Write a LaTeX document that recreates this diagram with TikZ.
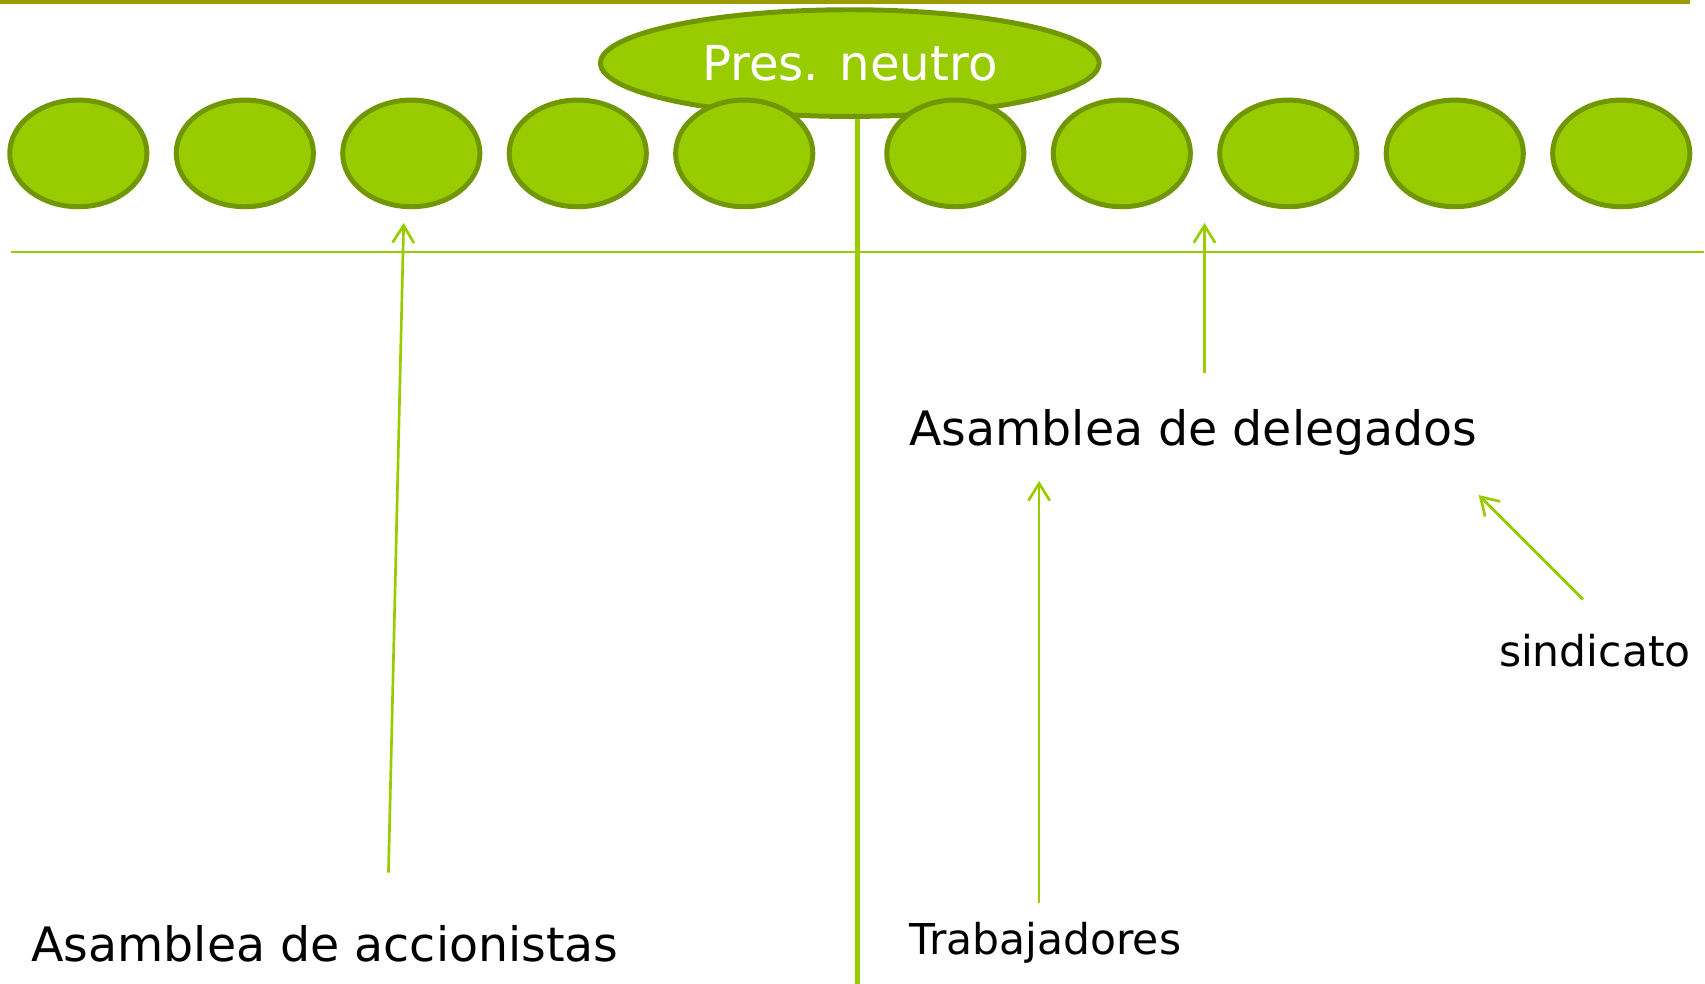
\documentclass[tikz,border=0pt]{standalone}
\usepackage{fontspec}
\setmainfont{DejaVu Sans}
\usepackage{tikz}
\usetikzlibrary{shapes.geometric, arrows.meta, positioning}
\definecolor{leafgreen}{RGB}{153, 204, 0}
\definecolor{leafdark}{RGB}{112, 150, 0}
\definecolor{olivebar}{RGB}{156, 156, 0}
\tikzset{
  seat/.style={ellipse, draw=leafdark, fill=leafgreen, line width=1.3pt, inner sep=0pt, minimum width=1.26cm, minimum height=0.98cm},
  link/.style={draw=leafgreen, line width=0.7pt, -{Straight Barb[length=4.5pt, width=5.6pt]}},
  biglabel/.style={anchor=base west, inner sep=0pt, font=\fontsize{12.4}{14}\selectfont},
  smalllabel/.style={anchor=base west, inner sep=0pt, font=\fontsize{11.1}{13}\selectfont}
}

\begin{document}
\begin{tikzpicture}[x=0.01cm, y=-0.01cm]
  \useasboundingbox (0, 0) rectangle (1567, 904);

  % Top rule and board line
  \draw[olivebar, line width=1.1pt] (0, 2) -- (1553, 2);
  \draw[leafgreen, line width=0.5pt] (10, 232) -- (1566, 232);

  % Neutral president
  \node[ellipse, draw=leafdark, fill=leafgreen, line width=1.3pt, inner sep=0pt, minimum width=4.58cm, minimum height=0.98cm, text=white, font=\fontsize{12.6}{15}\selectfont] (pres) at (781, 58) {Pres. neutro};
  \coordinate (split) at (788, 904);
  \draw[leafgreen, line width=1.2pt] (split |- pres.south) -- (split);

  % Board seats
  \node[seat] (s1) at (72, 141) {};
  \node[seat] (s2) at (225, 141) {};
  \node[seat] (s3) at (378, 141) {};
  \node[seat] (s4) at (531, 141) {};
  \node[seat] (s5) at (684, 141) {};
  \node[seat] (s6) at (878, 141) {};
  \node[seat] (s7) at (1031, 141) {};
  \node[seat] (s8) at (1184, 141) {};
  \node[seat] (s9) at (1337, 141) {};
  \node[seat] (s10) at (1490, 141) {};

  % Assemblies
  \node[biglabel] (accion) at (28, 884) {Asamblea de accionistas};
  \node[biglabel] (deleg) at (835, 409) {Asamblea de delegados};
  \node[smalllabel] (trab) at (835, 877) {Trabajadores};
  \node[smalllabel] (sind) at (1377, 613) {sindicato};

  % Arrows
  \coordinate (accion-up) at (357, 802);
  \coordinate (seat-left) at (371, 205);
  \coordinate (deleg-up) at (1107, 343);
  \coordinate (seat-right) at (1107, 205);
  \coordinate (trab-up) at (955, 830);
  \coordinate (deleg-low) at (955, 442);
  \coordinate (sind-up) at (1455, 551);
  \coordinate (deleg-side) at (1359, 455);
  \draw[link] (accion-up) -- (seat-left);
  \draw[link] (deleg-up) -- (seat-right);
  \draw[link] (trab-up) -- (deleg-low);
  \draw[link] (sind-up) -- (deleg-side);
\end{tikzpicture}
\end{document}
